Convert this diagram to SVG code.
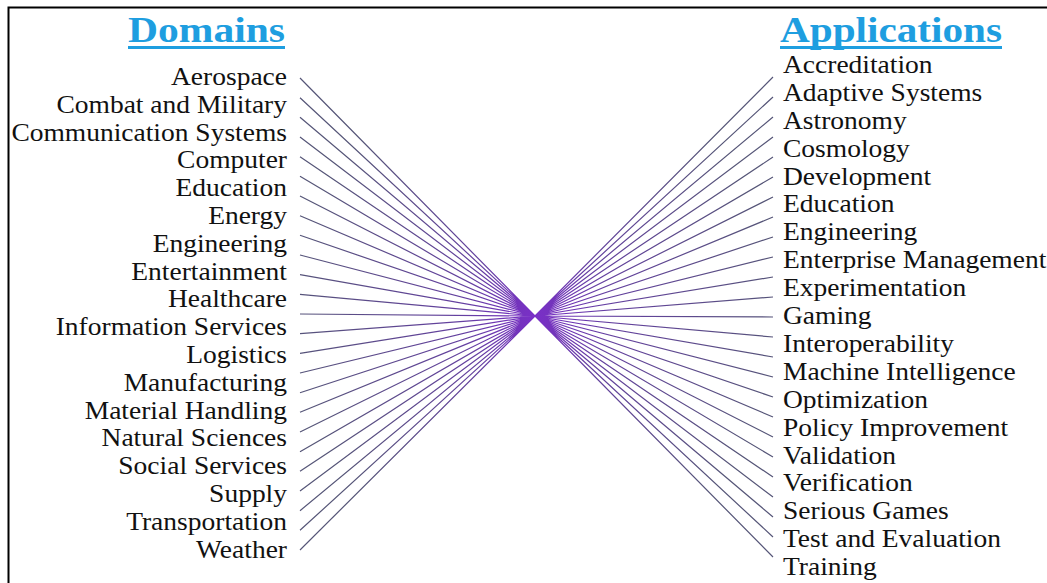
<svg xmlns="http://www.w3.org/2000/svg" width="1047" height="583" viewBox="0 0 1047 583">
<defs>
<radialGradient id="lg" gradientUnits="userSpaceOnUse" cx="535" cy="316" r="250">
<stop offset="0" stop-color="#7a2fc8"/>
<stop offset="0.3" stop-color="#6440a0"/>
<stop offset="1" stop-color="#555577"/>
</radialGradient>
</defs>
<style>
.lbl{font-family:"Liberation Serif","Times New Roman",serif;font-size:25px;fill:#111}
.hd{font-family:"Liberation Serif","Times New Roman",serif;font-size:36px;font-weight:bold;fill:#1e9ee0}
.ln{stroke:url(#lg);stroke-width:1.2;fill:none}
</style>
<rect x="0" y="0" width="1047" height="583" fill="#fff"/>
<path d="M8.5 583 V7.5 H1047" fill="none" stroke="#000" stroke-width="2"/>
<g id="heading-domains">
<text class="hd" x="128" y="42" textLength="157" lengthAdjust="spacingAndGlyphs">Domains</text>
<rect x="128" y="46" width="157" height="3" fill="#1e9ee0"/>
</g>
<g id="heading-applications">
<text class="hd" x="780" y="42" textLength="222" lengthAdjust="spacingAndGlyphs">Applications</text>
<rect x="780" y="46" width="222" height="3" fill="#1e9ee0"/>
</g>
<g id="connectors">
<path class="ln" d="M300 78L535 316M300 97.7L535 316M300 117.3L535 316M300 137L535 316M300 156.7L535 316M300 176.3L535 316M300 196L535 316M300 215.7L535 316M300 235.3L535 316M300 255L535 316M300 274.7L535 316M300 294.3L535 316M300 314L535 316M300 333.7L535 316M300 353.3L535 316M300 373L535 316M300 392.7L535 316M300 412.3L535 316M300 432L535 316M300 451.7L535 316M300 471.3L535 316M300 491L535 316M300 510.7L535 316M300 530.3L535 316M300 550L535 316"/>
<path class="ln" d="M773 77L535 316M773 97L535 316M773 117L535 316M773 137L535 316M773 157L535 316M773 177L535 316M773 197L535 316M773 217L535 316M773 237L535 316M773 257L535 316M773 277L535 316M773 297L535 316M773 317L535 316M773 337L535 316M773 357L535 316M773 377L535 316M773 397L535 316M773 417L535 316M773 437L535 316M773 457L535 316M773 477L535 316M773 497L535 316M773 517L535 316M773 537L535 316M773 557L535 316"/>
</g>
<g id="domains" transform="translate(287 0) scale(1.1 1)" text-anchor="end">
<g id="d-aerospace"><text class="lbl" x="0" y="85">Aerospace</text></g>
<g id="d-combat"><text class="lbl" x="0" y="112.8">Combat and Military</text></g>
<g id="d-communication"><text class="lbl" x="0" y="140.6">Communication Systems</text></g>
<g id="d-computer"><text class="lbl" x="0" y="168.4">Computer</text></g>
<g id="d-education"><text class="lbl" x="0" y="196.2">Education</text></g>
<g id="d-energy"><text class="lbl" x="0" y="224">Energy</text></g>
<g id="d-engineering"><text class="lbl" x="0" y="251.8">Engineering</text></g>
<g id="d-entertainment"><text class="lbl" x="0" y="279.6">Entertainment</text></g>
<g id="d-healthcare"><text class="lbl" x="0" y="307.4">Healthcare</text></g>
<g id="d-information"><text class="lbl" x="0" y="335.2">Information Services</text></g>
<g id="d-logistics"><text class="lbl" x="0" y="363">Logistics</text></g>
<g id="d-manufacturing"><text class="lbl" x="0" y="390.8">Manufacturing</text></g>
<g id="d-material"><text class="lbl" x="0" y="418.6">Material Handling</text></g>
<g id="d-natural"><text class="lbl" x="0" y="446.4">Natural Sciences</text></g>
<g id="d-social"><text class="lbl" x="0" y="474.2">Social Services</text></g>
<g id="d-supply"><text class="lbl" x="0" y="502">Supply</text></g>
<g id="d-transportation"><text class="lbl" x="0" y="529.8">Transportation</text></g>
<g id="d-weather"><text class="lbl" x="0" y="557.6">Weather</text></g>
</g>
<g id="applications" transform="translate(783 0) scale(1.1 1)">
<g id="a-accreditation"><text class="lbl" x="0" y="73">Accreditation</text></g>
<g id="a-adaptive"><text class="lbl" x="0" y="100.9">Adaptive Systems</text></g>
<g id="a-astronomy"><text class="lbl" x="0" y="128.8">Astronomy</text></g>
<g id="a-cosmology"><text class="lbl" x="0" y="156.7">Cosmology</text></g>
<g id="a-development"><text class="lbl" x="0" y="184.6">Development</text></g>
<g id="a-education"><text class="lbl" x="0" y="212.5">Education</text></g>
<g id="a-engineering"><text class="lbl" x="0" y="240.4">Engineering</text></g>
<g id="a-enterprise"><text class="lbl" x="0" y="268.3">Enterprise Management</text></g>
<g id="a-experimentation"><text class="lbl" x="0" y="296.2">Experimentation</text></g>
<g id="a-gaming"><text class="lbl" x="0" y="324.1">Gaming</text></g>
<g id="a-interoperability"><text class="lbl" x="0" y="352">Interoperability</text></g>
<g id="a-machine"><text class="lbl" x="0" y="379.9">Machine Intelligence</text></g>
<g id="a-optimization"><text class="lbl" x="0" y="407.8">Optimization</text></g>
<g id="a-policy"><text class="lbl" x="0" y="435.7">Policy Improvement</text></g>
<g id="a-validation"><text class="lbl" x="0" y="463.6">Validation</text></g>
<g id="a-verification"><text class="lbl" x="0" y="491.5">Verification</text></g>
<g id="a-serious"><text class="lbl" x="0" y="519.4">Serious Games</text></g>
<g id="a-test"><text class="lbl" x="0" y="547.3">Test and Evaluation</text></g>
<g id="a-training"><text class="lbl" x="0" y="575.2">Training</text></g>
</g>
</svg>
